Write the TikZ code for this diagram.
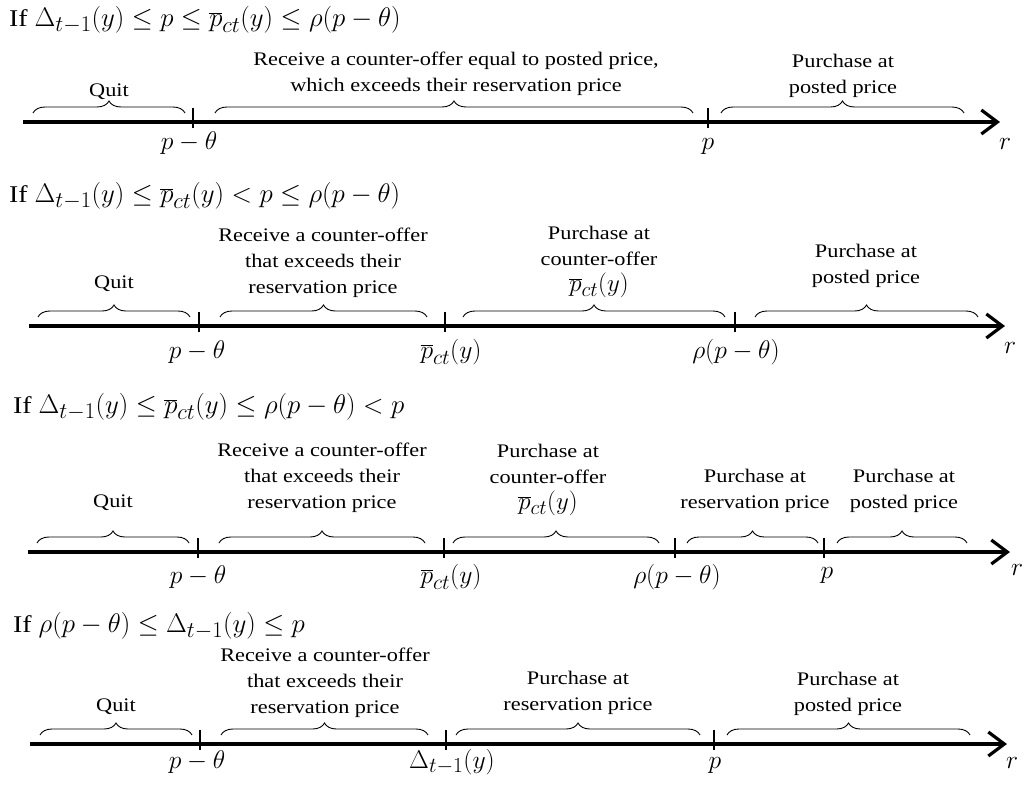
\RequirePackage{fix-cm}
\documentclass[tikz,border=0pt]{standalone}
\usepackage[no-math]{fontspec}
\setmainfont{Liberation Serif}[FakeStretch=1.16]
\usetikzlibrary{decorations.pathreplacing,arrows.meta}
\tikzset{
  axisline/.style={line width=3.2pt, -{Straight Barb[length=16pt,width=24pt]}},
  tickline/.style={line width=1.2pt},
  bracepath/.style={line width=0.9pt, decorate, decoration={brace, amplitude=12pt}},
  lab/.style={anchor=base, inner sep=0pt, font=\fontsize{19.2}{25.7}\selectfont},
  mlab/.style={anchor=base, inner sep=0pt, font=\fontsize{24.88}{30}\selectfont},
  ttl/.style={anchor=base west, inner sep=0pt, font=\fontsize{24}{30}\selectfont},
}
\newcommand\stk[1]{\begin{tabular}[b]{@{}c@{}}#1\end{tabular}}
\newcommand\mthbig[1]{{\fontsize{24.88}{30}\selectfont\scalebox{1.08}{$#1$}}}
\newcommand\mthlab[1]{{\fontsize{24.88}{30}\selectfont$#1$}}
\newcommand\mth[1]{\scalebox{1.03}{$#1$}}
\begin{document}
\begin{tikzpicture}[x=1pt,y=-1pt]
\useasboundingbox (0,0) rectangle (1029,785);
% ---------------- line 1
\node[ttl] (t1) at (9,26) {If \mthbig{\Delta_{t-1}(y)\le p\le\overline{p}_{ct}(y)\le\rho(p-\theta)}};
\coordinate (a1s) at (23,122); \coordinate (a1e) at (1000,122);
\draw[axisline] (a1s) -- (a1e);
\draw[tickline] (193,108) -- (193,128);
\draw[tickline] (708,108) -- (708,128);
\draw[bracepath] (33,113) -- (185,113);
\draw[bracepath] (215,113) -- (693,113);
\draw[bracepath] (721,113) -- (964,113);
\node[lab] (q1) at (109,96) {Quit};
\node[lab] (r1) at (456,91) {\stk{Receive a counter-offer equal to posted price,\\ which exceeds their reservation price}};
\node[lab] (pp1) at (843,93) {\stk{Purchase at\\ posted price}};
\node[mlab] (x1a) at (189,149) {\mth{p-\theta}};
\node[mlab] (x1b) at (708,149) {\mth{p}};
\node[mlab] (x1r) at (1005,149) {\mth{r}};
% ---------------- line 2
\node[ttl] (t2) at (9,202) {If \mthbig{\Delta_{t-1}(y)\le\overline{p}_{ct}(y)<p\le\rho(p-\theta)}};
\coordinate (a2s) at (29,326); \coordinate (a2e) at (1005,326);
\draw[axisline] (a2s) -- (a2e);
\draw[tickline] (199,312) -- (199,332);
\draw[tickline] (445,312) -- (445,332);
\draw[tickline] (735,312) -- (735,332);
\draw[bracepath] (38,317) -- (190,317);
\draw[bracepath] (220,317) -- (427,317);
\draw[bracepath] (463,317) -- (725,317);
\draw[bracepath] (755,317) -- (978,317);
\node[lab] (q2) at (114,288) {Quit};
\node[lab] (r2) at (323,293) {\stk{Receive a counter-offer\\ that exceeds their\\ reservation price}};
\node[lab] (c2) at (599,291) {\stk{Purchase at\\ counter-offer\\ \smash{\mthlab{\overline{p}_{ct}(y)}}}};
\node[lab] (pp2) at (866,283) {\stk{Purchase at\\ posted price}};
\node[mlab] (x2a) at (197,358) {\mth{p-\theta}};
\node[mlab] (x2b) at (451,358) {\mth{\overline{p}_{ct}(y)}};
\node[mlab] (x2c) at (736,358) {\mth{\rho(p-\theta)}};
\node[mlab] (x2r) at (1010,353) {\mth{r}};
% ---------------- line 3
\node[ttl] (t3) at (13,413) {If \mthbig{\Delta_{t-1}(y)\le\overline{p}_{ct}(y)\le\rho(p-\theta)<p}};
\coordinate (a3s) at (28,552); \coordinate (a3e) at (1010,552);
\draw[axisline] (a3s) -- (a3e);
\draw[tickline] (198,538) -- (198,558);
\draw[tickline] (444,538) -- (444,558);
\draw[tickline] (675,538) -- (675,558);
\draw[tickline] (824,538) -- (824,558);
\draw[bracepath] (37,543) -- (189,543);
\draw[bracepath] (219,543) -- (425,543);
\draw[bracepath] (453,543) -- (659,543);
\draw[bracepath] (687,543) -- (818,543);
\draw[bracepath] (837,543) -- (967,543);
\node[lab] (q3) at (113,507) {Quit};
\node[lab] (r3) at (322,508) {\stk{Receive a counter-offer\\ that exceeds their\\ reservation price}};
\node[lab] (c3) at (548,509) {\stk{Purchase at\\ counter-offer\\ \smash{\mthlab{\overline{p}_{ct}(y)}}}};
\node[lab] (rp3) at (755,508) {\stk{Purchase at\\ reservation price}};
\node[lab] (pp3) at (904,508) {\stk{Purchase at\\ posted price}};
\node[mlab] (x3a) at (198,583) {\mth{p-\theta}};
\node[mlab] (x3b) at (451,583) {\mth{\overline{p}_{ct}(y)}};
\node[mlab] (x3c) at (677,583) {\mth{\rho(p-\theta)}};
\node[mlab] (x3d) at (827,578) {\mth{p}};
\node[mlab] (x3r) at (1017,575) {\mth{r}};
% ---------------- line 4
\node[ttl] (t4) at (13,632) {If \mthbig{\rho(p-\theta)\le\Delta_{t-1}(y)\le p}};
\coordinate (a4s) at (30,744); \coordinate (a4e) at (1007,744);
\draw[axisline] (a4s) -- (a4e);
\draw[tickline] (200,730) -- (200,750);
\draw[tickline] (446,730) -- (446,750);
\draw[tickline] (714,730) -- (714,750);
\draw[bracepath] (40,735) -- (192,735);
\draw[bracepath] (221,735) -- (428,735);
\draw[bracepath] (456,735) -- (700,735);
\draw[bracepath] (727,735) -- (970,735);
\node[lab] (q4) at (116,711) {Quit};
\node[lab] (r4) at (325,713) {\stk{Receive a counter-offer\\ that exceeds their\\ reservation price}};
\node[lab] (rp4) at (578,710) {\stk{Purchase at\\ reservation price}};
\node[lab] (pp4) at (848,711) {\stk{Purchase at\\ posted price}};
\node[mlab] (x4a) at (197,768) {\mth{p-\theta}};
\node[mlab] (x4b) at (452,768) {\mth{\Delta_{t-1}(y)}};
\node[mlab] (x4c) at (715,768) {\mth{p}};
\node[mlab] (x4r) at (1012,768) {\mth{r}};
\end{tikzpicture}
\end{document}
